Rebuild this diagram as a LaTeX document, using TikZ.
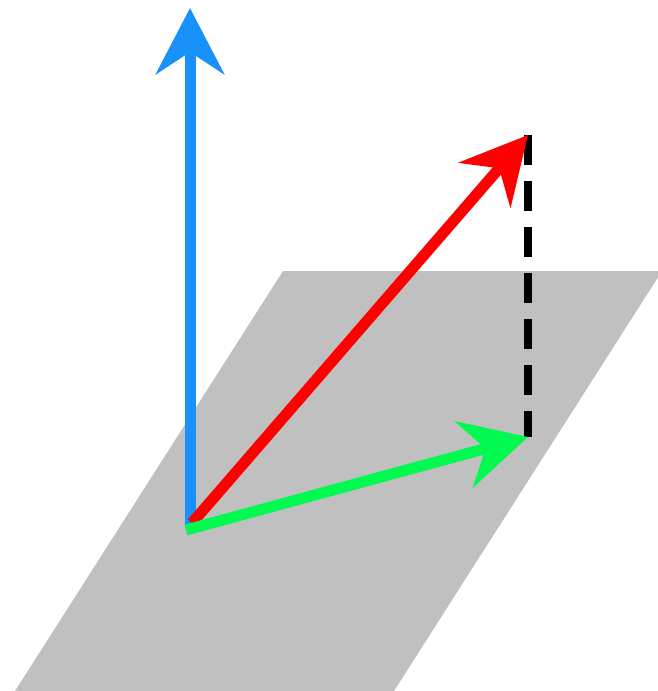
\documentclass[tikz,border=0pt]{standalone}
\usepackage{tikz}
\usetikzlibrary{arrows.meta}
\usetikzlibrary{positioning}

\definecolor{planegray}{RGB}{192,192,192}
\definecolor{zblue}{RGB}{25,145,250}
\definecolor{vred}{RGB}{255,0,0}
\definecolor{pgreen}{RGB}{0,250,80}

\begin{document}
\begin{tikzpicture}[x=1pt, y=-1pt,
        vec/.style={line width=11pt, -{Stealth[length=66pt, width=68pt, inset=22pt]}},
        drop/.style={line width=8pt, dash pattern=on 30pt off 16pt}]
        \useasboundingbox (0,0) rectangle (658,691);

        % plane
        \fill[planegray] (283,271) -- (662,271) -- (394,691) -- (15,691) -- cycle;

        \coordinate (origin) at (190,525);
        \coordinate (ztip) at (190,8);
        \coordinate (vtip) at (528,135);
        \coordinate (ptip) at (528,437);

        \draw[drop] (vtip) -- (ptip);

        \draw[vec, zblue] (origin) -- (ztip);
        \draw[vec, vred] ([xshift=2pt, yshift=2pt]origin) -- (vtip);
        \draw[vec, pgreen] ([xshift=-4pt, yshift=-5pt]origin) -- (ptip);
      \end{tikzpicture}
\end{document}
